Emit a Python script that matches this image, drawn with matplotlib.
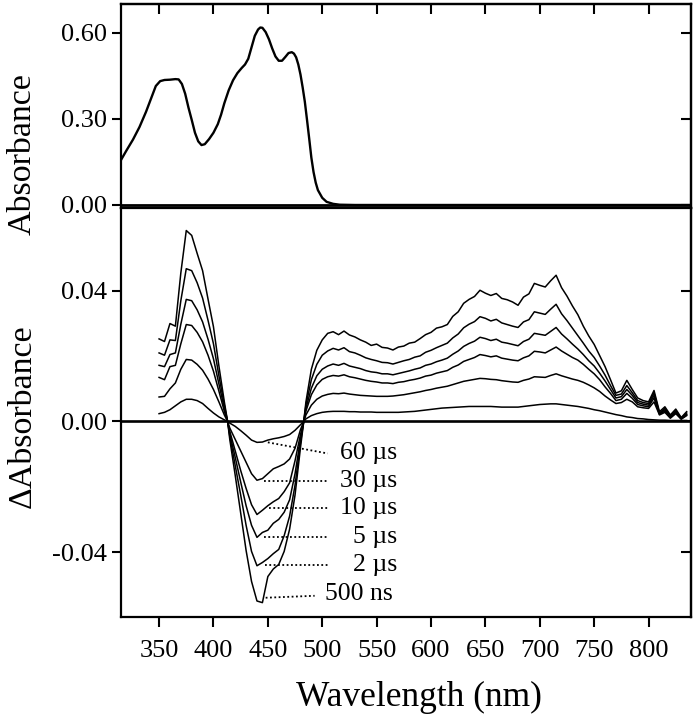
import matplotlib
matplotlib.use('Agg')
import matplotlib.pyplot as plt
from matplotlib.ticker import FixedLocator, FormatStrFormatter

plt.rcParams['font.family'] = ['Liberation Serif', 'DejaVu Serif']
plt.rcParams['axes.unicode_minus'] = False

# ---------------- data: ground-state absorbance ----------------
abs_wl = [315, 320, 326, 332, 338, 343, 347, 351, 355, 360, 365, 368, 371, 374, 377,
          380, 383, 386, 389, 392, 396, 400, 404, 407, 410, 414, 418, 422, 426, 429,
          432, 435, 438, 441, 443, 445, 448, 451, 454, 457, 460, 463, 466, 469, 472,
          474, 476, 478, 480, 482, 484, 486, 488, 490, 492, 494, 496, 500, 504, 510,
          516, 530, 600, 700, 838]
abs_val = [0.157, 0.190, 0.228, 0.272, 0.325, 0.375, 0.415, 0.432, 0.436, 0.437, 0.439,
           0.438, 0.422, 0.388, 0.340, 0.297, 0.252, 0.222, 0.209, 0.212, 0.230, 0.252,
           0.282, 0.315, 0.355, 0.400, 0.435, 0.460, 0.478, 0.490, 0.510, 0.550, 0.590,
           0.612, 0.619, 0.618, 0.603, 0.578, 0.546, 0.518, 0.503, 0.503, 0.516, 0.530,
           0.533, 0.528, 0.515, 0.490, 0.455, 0.410, 0.360, 0.297, 0.232, 0.165, 0.115,
           0.078, 0.052, 0.025, 0.011, 0.004, 0.001, 0.0, 0.0, 0.0, 0.0]

# ---------------- data: transient difference spectra ----------------
delta_wl = (list(range(350, 411, 5)) + [413] + list(range(415, 481, 5)) + [483]
            + list(range(485, 836, 5)))

d_500ns = [0.0253, 0.0245, 0.0300, 0.0292, 0.0455, 0.0585, 0.0570, 0.0515, 0.0462, 0.0375,
           0.0290, 0.0170, 0.0060, 0.0,
           -0.0055, -0.0165, -0.0280, -0.0395, -0.0490, -0.0550, -0.0555, -0.0475, -0.0452,
           -0.0438, -0.0398, -0.0330, -0.0225, -0.0080, 0.0,
           0.0060, 0.0160, 0.0218, 0.0250, 0.0270, 0.0275, 0.0266, 0.0277, 0.0265, 0.0259,
           0.0250, 0.0243, 0.0233, 0.0237, 0.0227, 0.0225, 0.0219, 0.0228, 0.0231, 0.0240,
           0.0243, 0.0254, 0.0266, 0.0273, 0.0286, 0.0290, 0.0297, 0.0322, 0.0336, 0.0362,
           0.0374, 0.0383, 0.0402, 0.0393, 0.0386, 0.0392, 0.0377, 0.0373, 0.0366, 0.0356,
           0.0381, 0.0391, 0.0423, 0.0417, 0.0412, 0.0431, 0.0448, 0.0410, 0.0384, 0.0354,
           0.0327, 0.0292, 0.0262, 0.0236, 0.0202, 0.0168, 0.0128, 0.0087, 0.0094, 0.0126,
           0.0098, 0.0072, 0.0064, 0.0060, 0.0095, 0.0030, 0.0045, 0.0020, 0.0038, 0.0012,
           0.0030]
d_2us = [0.0210, 0.0203, 0.0250, 0.0248, 0.0370, 0.0468, 0.0462, 0.0425, 0.0378, 0.0310,
         0.0238, 0.0140, 0.0050, 0.0,
         -0.0045, -0.0135, -0.0225, -0.0318, -0.0398, -0.0442, -0.0432, -0.0420, -0.0405,
         -0.0392, -0.0350, -0.0290, -0.0195, -0.0065, 0.0,
         0.0050, 0.0128, 0.0175, 0.0203, 0.0216, 0.0224, 0.0219, 0.0226, 0.0214, 0.0210,
         0.0203, 0.0195, 0.0190, 0.0186, 0.0181, 0.0180, 0.0176, 0.0181, 0.0186, 0.0190,
         0.0197, 0.0201, 0.0212, 0.0218, 0.0226, 0.0233, 0.0240, 0.0256, 0.0268, 0.0287,
         0.0298, 0.0306, 0.0321, 0.0316, 0.0308, 0.0313, 0.0302, 0.0297, 0.0292, 0.0288,
         0.0305, 0.0312, 0.0336, 0.0332, 0.0328, 0.0344, 0.0359, 0.0330, 0.0309, 0.0286,
         0.0263, 0.0240, 0.0216, 0.0196, 0.0170, 0.0142, 0.0110, 0.0080, 0.0084, 0.0110,
         0.0088, 0.0064, 0.0058, 0.0055, 0.0088, 0.0026, 0.0040, 0.0016, 0.0033, 0.0010,
         0.0026]
d_5us = [0.0172, 0.0168, 0.0205, 0.0210, 0.0298, 0.0374, 0.0370, 0.0342, 0.0305, 0.0252,
         0.0192, 0.0115, 0.0040, 0.0,
         -0.0038, -0.0110, -0.0185, -0.0258, -0.0318, -0.0355, -0.0340, -0.0333, -0.0312,
         -0.0300, -0.0278, -0.0240, -0.0160, -0.0055, 0.0,
         0.0040, 0.0102, 0.0140, 0.0160, 0.0170, 0.0176, 0.0172, 0.0178, 0.0170, 0.0166,
         0.0162, 0.0156, 0.0152, 0.0150, 0.0146, 0.0146, 0.0143, 0.0147, 0.0151, 0.0155,
         0.0160, 0.0164, 0.0172, 0.0176, 0.0183, 0.0188, 0.0194, 0.0206, 0.0216, 0.0230,
         0.0239, 0.0246, 0.0258, 0.0254, 0.0248, 0.0252, 0.0243, 0.0240, 0.0236, 0.0232,
         0.0245, 0.0252, 0.0270, 0.0267, 0.0264, 0.0276, 0.0288, 0.0268, 0.0253, 0.0237,
         0.0222, 0.0205, 0.0186, 0.0170, 0.0148, 0.0124, 0.0098, 0.0072, 0.0076, 0.0098,
         0.0080, 0.0058, 0.0053, 0.0050, 0.0080, 0.0024, 0.0036, 0.0014, 0.0030, 0.0009,
         0.0022]
d_10us = [0.0135, 0.0128, 0.0168, 0.0172, 0.0238, 0.0297, 0.0294, 0.0273, 0.0244, 0.0203,
          0.0154, 0.0093, 0.0031, 0.0,
          -0.0030, -0.0090, -0.0150, -0.0205, -0.0255, -0.0285, -0.0272, -0.0258, -0.0246,
          -0.0236, -0.0215, -0.0188, -0.0120, -0.0040, 0.0,
          0.0032, 0.0082, 0.0112, 0.0129, 0.0137, 0.0141, 0.0139, 0.0143, 0.0137, 0.0134,
          0.0130, 0.0126, 0.0123, 0.0121, 0.0118, 0.0118, 0.0116, 0.0120, 0.0122, 0.0126,
          0.0129, 0.0133, 0.0139, 0.0142, 0.0148, 0.0152, 0.0156, 0.0166, 0.0173, 0.0184,
          0.0190, 0.0196, 0.0205, 0.0202, 0.0198, 0.0201, 0.0194, 0.0191, 0.0188, 0.0186,
          0.0195, 0.0201, 0.0215, 0.0213, 0.0210, 0.0219, 0.0228, 0.0216, 0.0206, 0.0196,
          0.0188, 0.0175, 0.0160, 0.0146, 0.0128, 0.0106, 0.0086, 0.0064, 0.0068, 0.0086,
          0.0071, 0.0052, 0.0048, 0.0045, 0.0072, 0.0022, 0.0032, 0.0012, 0.0027, 0.0008,
          0.0020]
d_30us = [0.0075, 0.0077, 0.0100, 0.0118, 0.0160, 0.0190, 0.0188, 0.0175, 0.0157, 0.0130,
          0.0098, 0.0060, 0.0020, 0.0,
          -0.0020, -0.0055, -0.0090, -0.0125, -0.0160, -0.0180, -0.0175, -0.0160, -0.0145,
          -0.0138, -0.0130, -0.0115, -0.0082, -0.0025, 0.0,
          0.0020, 0.0050, 0.0068, 0.0078, 0.0083, 0.0086, 0.0085, 0.0087, 0.0084, 0.0082,
          0.0080, 0.0079, 0.0078, 0.0077, 0.0077, 0.0077, 0.0078, 0.0080, 0.0082, 0.0085,
          0.0088, 0.0091, 0.0095, 0.0098, 0.0102, 0.0105, 0.0108, 0.0113, 0.0118, 0.0123,
          0.0126, 0.0129, 0.0132, 0.0131, 0.0129, 0.0128, 0.0125, 0.0123, 0.0121, 0.0120,
          0.0126, 0.0130, 0.0137, 0.0136, 0.0135, 0.0141, 0.0146, 0.0140, 0.0135, 0.0130,
          0.0126, 0.0120, 0.0112, 0.0103, 0.0092, 0.0078, 0.0066, 0.0055, 0.0058, 0.0068,
          0.0060, 0.0045, 0.0042, 0.0040, 0.0060, 0.0020, 0.0028, 0.0010, 0.0024, 0.0007,
          0.0018]
d_60us = [0.0024, 0.0028, 0.0036, 0.0048, 0.0060, 0.0068, 0.0068, 0.0064, 0.0055, 0.0040,
          0.0026, 0.0014, 0.0005, 0.0,
          -0.0005, -0.0015, -0.0028, -0.0042, -0.0057, -0.0064, -0.0063, -0.0057, -0.0053,
          -0.0050, -0.0046, -0.0040, -0.0027, -0.0010, 0.0,
          0.0008, 0.0018, 0.0024, 0.0028, 0.0030, 0.0031, 0.0031, 0.0031, 0.0030, 0.0030,
          0.0029, 0.0029, 0.0029, 0.0028, 0.0028, 0.0028, 0.0028, 0.0028, 0.0029, 0.0030,
          0.0031, 0.0033, 0.0035, 0.0037, 0.0039, 0.0041, 0.0042, 0.0043, 0.0044, 0.0045,
          0.0046, 0.0046, 0.0046, 0.0046, 0.0046, 0.0045, 0.0044, 0.0044, 0.0044, 0.0044,
          0.0046, 0.0048, 0.0050, 0.0052, 0.0053, 0.0054, 0.0054, 0.0052, 0.0050, 0.0048,
          0.0046, 0.0043, 0.0040, 0.0036, 0.0033, 0.0029, 0.0025, 0.0021, 0.0018, 0.0014,
          0.0012, 0.0009, 0.0008, 0.0006, 0.0005, 0.0004, 0.0004, 0.0003, 0.0003, 0.0003,
          0.0003]

trace_labels = ['500 ns', '2 \u00b5s', '5 \u00b5s', '10 \u00b5s', '30 \u00b5s', '60 \u00b5s']
traces = [d_500ns, d_2us, d_5us, d_10us, d_30us, d_60us]

x_ticks = [350, 400, 450, 500, 550, 600, 650, 700, 750, 800]
top_yticks = [0.00, 0.30, 0.60]
bot_yticks = [-0.04, 0.00, 0.04]

# ---------------- figure ----------------
W, H = 696, 720
fig = plt.figure(figsize=(W / 100, H / 100), dpi=100)
left, right = 121 / W, 691 / W
y_top, y_mid, y_bot = 1 - 4 / H, 1 - 208 / H, 1 - 617 / H
ax1 = fig.add_axes([left, y_mid, right - left, y_top - y_mid])
ax2 = fig.add_axes([left, y_bot, right - left, y_mid - y_bot])

XLIM = (315, 839)
TICK_FS = 19
LABEL_FS = 24.5
SPINE_LW = 1.6

for ax in (ax1, ax2):
    ax.set_xlim(*XLIM)
    for s in ax.spines.values():
        s.set_linewidth(SPINE_LW)

# top panel
ax1.plot(abs_wl, abs_val, color='black', lw=1.7)
ax1.axhline(0, color='black', lw=2.0)
ax1.set_ylim(-0.0105, 0.701)
ax1.yaxis.set_major_locator(FixedLocator(top_yticks))
ax1.yaxis.set_major_formatter(FormatStrFormatter('%.2f'))
ax1.tick_params(axis='y', direction='out', length=6.5, width=1.5, labelsize=TICK_FS, pad=3.6)
ax1.tick_params(axis='x', bottom=False, labelbottom=False)
sx1 = ax1.secondary_xaxis('top')
sx1.xaxis.set_major_locator(FixedLocator(x_ticks))
sx1.tick_params(direction='in', length=7, width=1.5, labeltop=False)
sx1.spines['top'].set_linewidth(SPINE_LW)
sy1 = ax1.secondary_yaxis('right')
sy1.yaxis.set_major_locator(FixedLocator(top_yticks))
sy1.tick_params(direction='in', length=7, width=1.5, labelright=False)
sy1.spines['right'].set_linewidth(SPINE_LW)

# bottom panel
for tr in traces:
    ax2.plot(delta_wl, tr, color='black', lw=1.1)
ax2.axhline(0, color='black', lw=1.9)
ax2.set_ylim(-0.0599, 0.0654)
ax2.xaxis.set_major_locator(FixedLocator(x_ticks))
ax2.yaxis.set_major_locator(FixedLocator(bot_yticks))
ax2.yaxis.set_major_formatter(FormatStrFormatter('%.2f'))
ax2.tick_params(axis='y', direction='out', length=6.5, width=1.5, labelsize=TICK_FS, pad=3.6)
ax2.tick_params(axis='x', direction='out', length=7, width=1.5, labelsize=TICK_FS, pad=9.5)
sy2 = ax2.secondary_yaxis('right')
sy2.yaxis.set_major_locator(FixedLocator(bot_yticks))
sy2.tick_params(direction='in', length=7, width=1.5, labelright=False)
sy2.spines['right'].set_linewidth(SPINE_LW)

# annotations (label, leader start x, start y, leader end x, end y, text x, text y)
ann = [
    ('60 \u00b5s', 450, -0.0064, 505, -0.0098, 568.5, -0.0098),
    ('30 \u00b5s', 446, -0.0183, 505, -0.0183, 568.5, -0.0183),
    ('10 \u00b5s', 451, -0.0264, 505, -0.0264, 568.5, -0.0264),
    ('5 \u00b5s', 446, -0.0355, 505, -0.0355, 568.5, -0.0355),
    ('2 \u00b5s', 447, -0.0440, 505, -0.0440, 568.5, -0.0440),
    ('500 ns', 448, -0.0540, 493, -0.0534, 565.0, -0.0528),
]
for lab, x0, y0, x1, y1, tx, ty in ann:
    ax2.plot([x0, x1], [y0, y1], color='black', lw=1.3, linestyle=(0, (1, 1.4)))
    ax2.text(tx, ty, lab, ha='right', va='center', fontsize=18.5)

fig.text(22 / W, 1 - 154 / H, 'Absorbance', rotation=90, ha='center', va='center',
         fontsize=LABEL_FS)
fig.text(22 / W, 1 - 416 / H, '\u0394Absorbance', rotation=90, ha='center', va='center',
         fontsize=LABEL_FS)
fig.text(419 / W, 1 - 697 / H, 'Wavelength (nm)', ha='center', va='center',
         fontsize=25.5)

fig.savefig('out.png', dpi=100)
